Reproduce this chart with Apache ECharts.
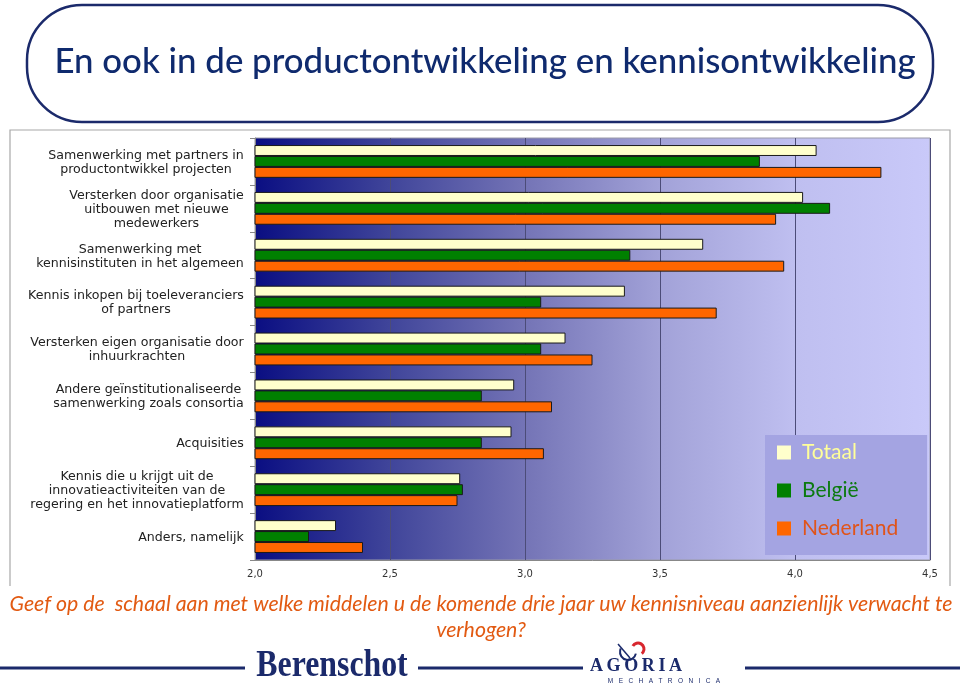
<!DOCTYPE html>
<html><head><meta charset="utf-8">
<script src="https://cdn.jsdelivr.net/npm/echarts@6/dist/echarts.min.js"></script>
<style>html,body{margin:0;padding:0;background:#fff}#c{width:960px;height:691px}</style>
</head><body><div id="c"></div>
<script>
const categories = [
  "Samenwerking met partners in\nproductontwikkel projecten",
  "Versterken door organisatie\nuitbouwen met nieuwe\nmedewerkers",
  "Samenwerking met\nkennisinstituten in het algemeen",
  "Kennis inkopen bij toeleveranciers\nof partners",
  "Versterken eigen organisatie door\ninhuurkrachten",
  "Andere geïnstitutionaliseerde\nsamenwerking zoals consortia",
  "Acquisities",
  "Kennis die u krijgt uit de\ninnovatieactiviteiten van de\nregering en het innovatieplatform",
  "Anders, namelijk"
];
const seriesNames = ["Totaal", "België", "Nederland"];
const totaal    = [4.08, 4.03, 3.66, 3.37, 3.15, 2.96, 2.95, 2.76, 2.30];
const belgie    = [3.87, 4.13, 3.39, 3.06, 3.06, 2.84, 2.84, 2.77, 2.20];
const nederland = [4.32, 3.93, 3.96, 3.71, 3.25, 3.10, 3.07, 2.75, 2.40];
const xTicks = [2.0, 2.5, 3.0, 3.5, 4.0, 4.5];
const titleText = "En ook in de productontwikkeling en kennisontwikkeling";
const questionLines = ["Geef op de  schaal aan met welke middelen u de komende drie jaar uw kennisniveau aanzienlijk verwacht te", "verhogen?"];

const labelFamily = '"DejaVu Sans", Verdana, sans-serif';
const labelSize = 12.6;
const cv = document.createElement('canvas').getContext('2d');
cv.font = labelSize + 'px ' + labelFamily;
const rich = {};
categories.forEach((c, i) => {
  const w = Math.max(...c.split('\n').map(s => cv.measureText(s).width));
  rich['l' + i] = { width: Math.ceil(w), align: 'center', fontFamily: labelFamily, fontSize: labelSize, lineHeight: 14, color: '#222' };
});

const chart = echarts.init(document.getElementById('c'), null, {renderer: 'canvas'});
const barBorder = { borderColor: '#1a1a1a', borderWidth: 1 };
const option = {
  animation: false,
  backgroundColor: '#ffffff',
  grid: {
    left: 255, right: 30, top: 138, bottom: 131, show: true, borderWidth: 1, borderColor: '#9a9aa8',
    backgroundColor: new echarts.graphic.LinearGradient(0, 0, 1, 0, [
      {offset: 0, color: '#0a0e82'},
      {offset: 0.2, color: '#40459a'},
      {offset: 0.4, color: '#7474b6'},
      {offset: 0.6, color: '#a2a2d8'},
      {offset: 0.8, color: '#bfbff0'},
      {offset: 1, color: '#c9c9f9'}
    ])
  },
  xAxis: {
    type: 'value', min: 2.0, max: 4.5, interval: 0.5,
    axisLine: { show: true, lineStyle: { color: '#888' } },
    axisTick: { show: false },
    splitLine: { show: true, lineStyle: { color: '#4c4c78', width: 1 } },
    axisLabel: { color: '#333', fontSize: 10, fontFamily: labelFamily, margin: 9,
      formatter: v => xTicks.includes(+v.toFixed(1)) ? v.toFixed(1).replace('.', ',') : '' }
  },
  yAxis: {
    type: 'category', data: categories, inverse: true,
    axisLine: { show: true, lineStyle: { color: '#888' } },
    axisTick: { show: true, length: 5, lineStyle: { color: '#888' } },
    axisLabel: {
      margin: 11, align: 'right', rich: rich, padding: [2, 0, 0, 0],
      formatter: (v, i) => v.split('\n').map(s => '{l' + i + '|' + s + '}').join('\n')
    }
  },
  legend: {
    orient: 'vertical', left: 765, top: 435,
    backgroundColor: '#a4a4e2', padding: [7, 29, 16, 12],
    itemWidth: 14, itemHeight: 14, itemGap: 17,
    icon: 'rect',
    itemStyle: { borderWidth: 0 },
    data: [
      { name: seriesNames[0], textStyle: { color: '#ffff9a' } },
      { name: seriesNames[1], textStyle: { color: '#0c7a10' } },
      { name: seriesNames[2], textStyle: { color: '#e0541a' } }
    ],
    textStyle: { fontFamily: 'Lato, "Open Sans", sans-serif', fontSize: 21, padding: [0, 0, 0, 6] }
  },
  series: [
    { name: seriesNames[0], type: 'bar', data: totaal, barGap: '0%', barCategoryGap: '30%',
      itemStyle: Object.assign({ color: '#ffffcc' }, barBorder) },
    { name: seriesNames[1], type: 'bar', data: belgie,
      itemStyle: Object.assign({ color: '#008000' }, barBorder) },
    { name: seriesNames[2], type: 'bar', data: nederland,
      itemStyle: Object.assign({ color: '#ff6600' }, barBorder) }
  ],
  graphic: [
    { type: 'rect', shape: { x: 27, y: 5, width: 906, height: 117, r: 55 },
      style: { fill: '#fff', stroke: '#1b2a6b', lineWidth: 2.5 }, z: -1 },
    { type: 'text', x: 485, y: 62, style: { text: titleText, fill: '#0f2a6e',
      font: '500 34.8px Lato, "Open Sans", sans-serif', textAlign: 'center', textVerticalAlign: 'middle' } },
    { type: 'polyline', shape: { points: [[10, 586], [10, 130], [950, 130], [950, 586]] },
      style: { stroke: '#a8a8a8', lineWidth: 1.2, fill: null } },
    { type: 'text', x: 481, y: 604, style: { text: questionLines[0], fill: '#e25a12',
      font: 'italic 21.3px Lato, "Open Sans", sans-serif', textAlign: 'center', textVerticalAlign: 'middle' } },
    { type: 'text', x: 481, y: 630, style: { text: questionLines[1], fill: '#e25a12',
      font: 'italic 21.3px Lato, "Open Sans", sans-serif', textAlign: 'center', textVerticalAlign: 'middle' } },
    { type: 'line', shape: { x1: 0, y1: 668, x2: 245, y2: 668 }, style: { stroke: '#1b2a6b', lineWidth: 3 } },
    { type: 'line', shape: { x1: 418, y1: 668, x2: 583, y2: 668 }, style: { stroke: '#1b2a6b', lineWidth: 3 } },
    { type: 'line', shape: { x1: 745, y1: 668, x2: 960, y2: 668 }, style: { stroke: '#1b2a6b', lineWidth: 3 } },
    { type: 'text', x: 332, y: 666, scaleX: 0.86, style: { text: 'Berenschot', fill: '#1b2a6b',
      font: 'bold 37px "Liberation Serif", "DejaVu Serif", serif', textAlign: 'center', textVerticalAlign: 'middle' } },
    { type: 'text', x: 636, y: 666, style: { text: 'A\u2009G\u2009O\u2009R\u2009I\u2009A', fill: '#1b2a6b',
      font: 'bold 18px "Liberation Serif", serif', textAlign: 'center', textVerticalAlign: 'middle' } },
    { type: 'text', x: 664, y: 681, style: { text: 'M   E   C   H   A   T   R   O   N   I   C   A', fill: '#1b2a6b',
      font: '6.5px "Liberation Sans", sans-serif', textAlign: 'center', textVerticalAlign: 'middle' } },
    { type: 'arc', shape: { cx: 628, cy: 652, r: 8, startAngle: 0.2, endAngle: 3.6 },
      style: { stroke: '#1b2a6b', lineWidth: 2, fill: null } },
    { type: 'arc', shape: { cx: 638, cy: 649, r: 6, startAngle: -2.6, endAngle: 0.9 },
      style: { stroke: '#d8262e', lineWidth: 3, fill: null } },
    { type: 'line', shape: { x1: 618, y1: 644, x2: 630, y2: 658 }, style: { stroke: '#1b2a6b', lineWidth: 1.5 } }
  ]
};
chart.setOption(option);
</script></body></html>
